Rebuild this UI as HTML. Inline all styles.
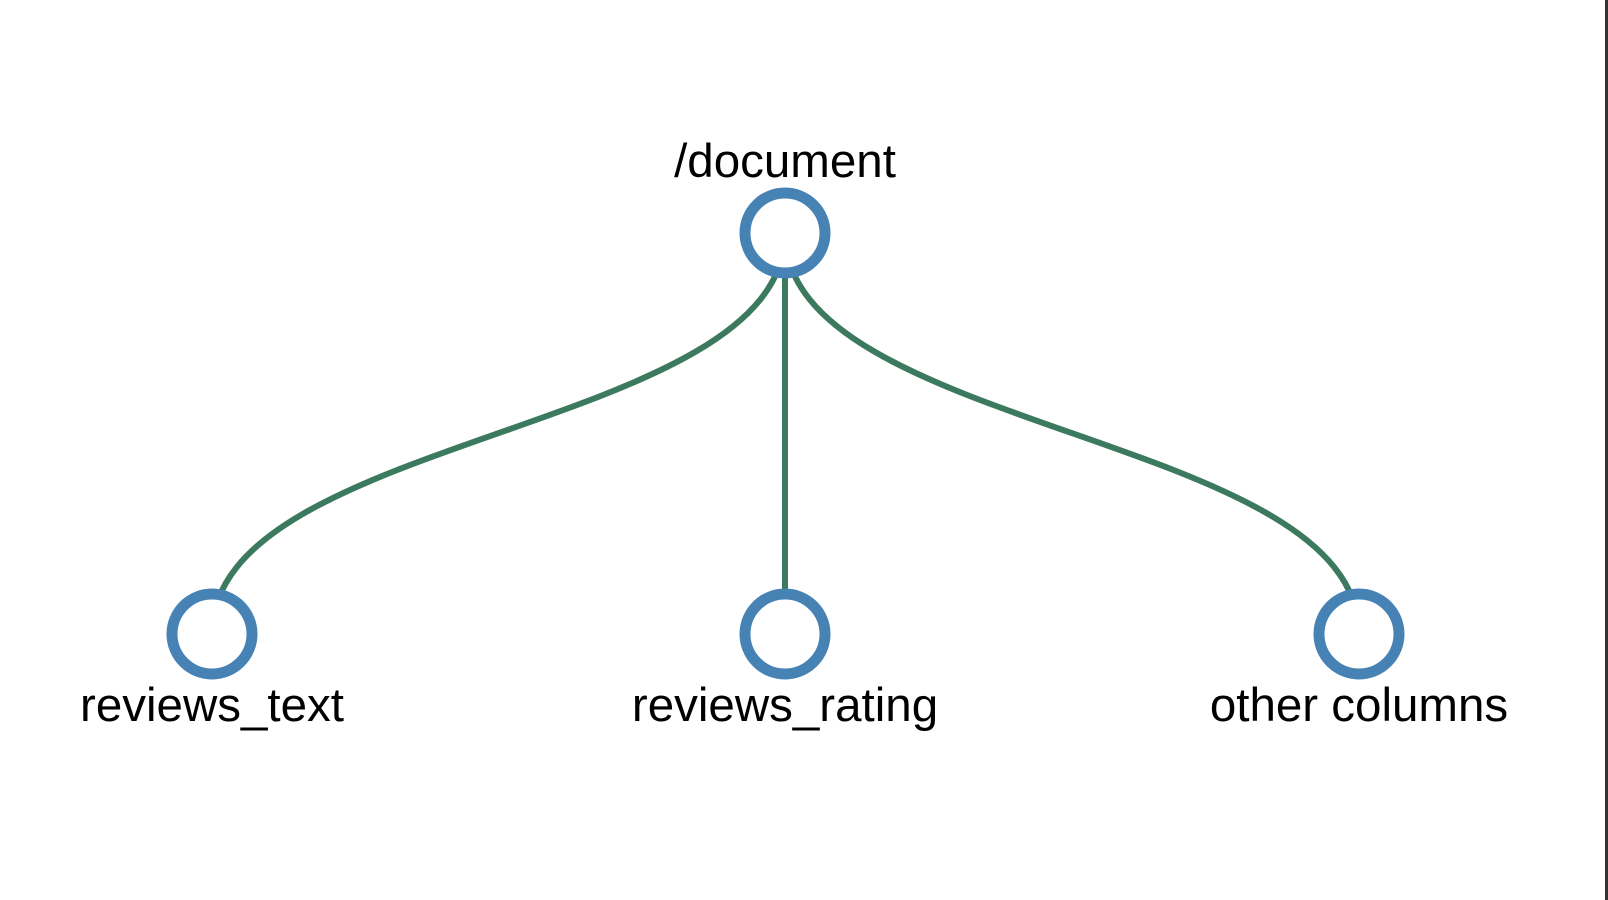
<!DOCTYPE html>
<html><head><style>html,body{margin:0;padding:0;background:#fff;}svg{display:block;}</style></head>
<body>
<svg width="1608" height="900" xmlns="http://www.w3.org/2000/svg">
<rect x="1605" y="0" width="3" height="900" fill="#333"/>
<g fill="none" stroke="#3b7a5e" stroke-width="6">
<path d="M785,233 C785,433 212,433 212,634"/>
<path d="M785,233 L785,634"/>
<path d="M785,233 C785,433 1359,433 1359,634"/>
</g>
<g fill="#fff" stroke="#4682b4" stroke-width="11">
<circle cx="785" cy="233" r="40"/>
<circle cx="212" cy="634" r="40"/>
<circle cx="785" cy="634" r="40"/>
<circle cx="1359" cy="634" r="40"/>
</g>
<g font-family="Liberation Sans, Arial, sans-serif" font-size="47.5" fill="#000" text-anchor="middle">
<text x="785" y="177">/document</text>
<text x="212" y="721">reviews_text</text>
<text x="785" y="721">reviews_rating</text>
<text x="1359" y="721">other columns</text>
</g>
</svg>
</body></html>
